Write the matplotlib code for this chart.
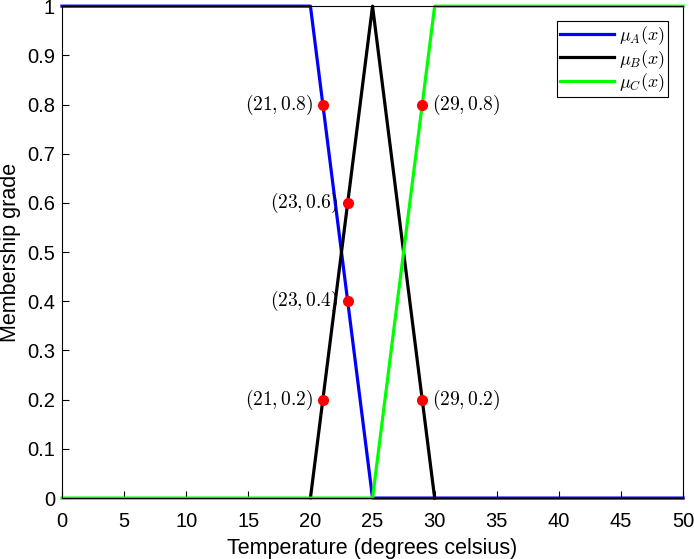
import numpy as np
import matplotlib.pyplot as plt

plt.rcParams["font.family"] = ["Liberation Sans", "DejaVu Sans"]
plt.rcParams["mathtext.fontset"] = "cm"

# membership functions (breakpoints)
x_a = [0, 20, 25, 50]
y_a = [1, 1, 0, 0]
x_b = [20, 25, 30]
y_b = [0, 1, 0]
x_c = [0, 25, 30, 50]
y_c = [0, 0, 1, 1]

# marked points
pt_x = [21, 23, 23, 21, 29, 29]
pt_y = [0.8, 0.6, 0.4, 0.2, 0.8, 0.2]
pt_labels = ["$(21, 0.8)$", "$(23, 0.6)$", "$(23, 0.4)$", "$(21, 0.2)$",
             "$(29, 0.8)$", "$(29, 0.2)$"]
pt_side = ["left", "left", "left", "left", "right", "right"]

fig = plt.figure(figsize=(6.94, 5.59), dpi=100)
ax = fig.add_axes([0.0893, 0.109, 0.895, 0.880])

ax.plot(x_a, y_a, color="#0000ff", linewidth=2.3, label=r"$\mu_A(x)$", clip_on=False)
ax.plot(x_b, y_b, color="black", linewidth=2.3, label=r"$\mu_B(x)$", clip_on=False)
ax.plot(x_c, y_c, color="#00ff00", linewidth=2.3, label=r"$\mu_C(x)$", clip_on=False)

ax.plot(pt_x, pt_y, "o", color="#ff0000", markersize=7, zorder=5)
for px, py, lab, side in zip(pt_x, pt_y, pt_labels, pt_side):
    if side == "left":
        ax.annotate(lab, (px, py), xytext=(-7, 0), textcoords="offset points",
                    ha="right", va="center", fontsize=14)
    else:
        ax.annotate(lab, (px, py), xytext=(7, 0), textcoords="offset points",
                    ha="left", va="center", fontsize=14)

ax.set_xlim(0, 50)
ax.set_ylim(0, 1)
ax.set_xticks(np.arange(0, 51, 5))
ax.set_yticks(np.arange(0, 1.01, 0.1))
ax.set_yticklabels(["0", "0.1", "0.2", "0.3", "0.4", "0.5", "0.6", "0.7",
                    "0.8", "0.9", "1"])
ax.tick_params(direction="in", length=5, labelsize=14.5, top=False, right=False)
ax.tick_params(axis="x", pad=10)
ax.tick_params(axis="y", pad=5)
ax.set_xlabel("Temperature (degrees celsius)", fontsize=15.5, labelpad=5)
ax.set_ylabel("Membership grade", fontsize=15.5, labelpad=4)

for s in ax.spines.values():
    s.set_linewidth(0.8)

leg = ax.legend(loc="upper right", fontsize=13, fancybox=False,
                edgecolor="black", framealpha=1, handlelength=3.0,
                borderaxespad=0.85, labelspacing=0.05, handletextpad=0.25,
                borderpad=0.15)
leg.get_frame().set_linewidth(0.8)

fig.savefig("out.png", dpi=100)
